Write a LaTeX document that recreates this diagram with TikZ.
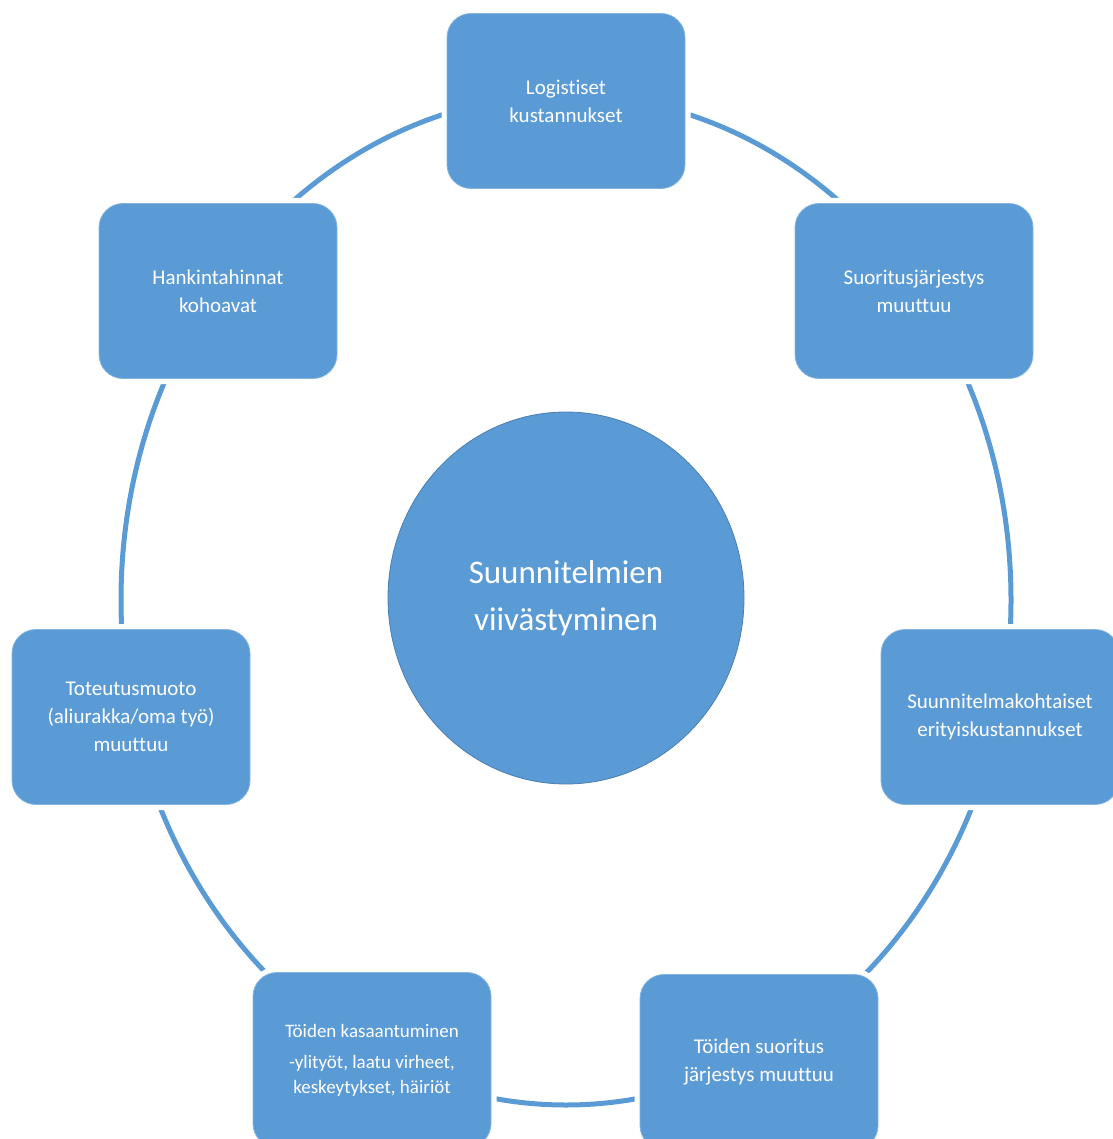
\documentclass[tikz,border=0pt]{standalone}
\usepackage{fontspec}
\setmainfont{Carlito}[Ligatures=NoCommon]
\usetikzlibrary{shapes.geometric}
\definecolor{boxblue}{HTML}{5B9BD5}
\definecolor{rimblue}{HTML}{4A7DB0}
\begin{document}
\begin{tikzpicture}[x=1pt,y=-1pt,
  item/.style={rectangle, rounded corners=24pt, fill=boxblue, draw=boxblue!75!white, line width=0.8pt,
    preaction={draw=white,line width=11pt}, minimum width=238pt, minimum height=175pt,
    text=white, align=center, font=\fontsize{21}{28}\selectfont, inner sep=2pt},
  ring/.style={draw=boxblue, line width=5pt}]
\useasboundingbox (0,0) rectangle (1112,1139);
\fill[white] (0,0) rectangle (1112,1139);
\draw[ring] (566,600) ellipse [x radius=445, y radius=505];
\node[item] (log) at (566,101) {Logistiset\\kustannukset};
\node[item] (suo) at (914,291) {Suoritusjärjestys\\muuttuu};
\node[item] (spe) at (1000,717) {Suunnitelmakohtaiset\\erityiskustannukset};
\node[item] (tsj) at (759,1062) {Töiden suoritus\\järjestys muuttuu};
\node[item, font=\fontsize{19}{25}\selectfont] (kas) at (372,1060) {Töiden kasaantuminen\\[6pt]-ylityöt, laatu virheet,\\keskeytykset, häiriöt};
\node[item] (tot) at (131,717) {Toteutusmuoto\\(aliurakka/oma työ)\\muuttuu};
\node[item] (han) at (218,291) {Hankintahinnat\\kohoavat};
\node[ellipse, fill=boxblue, draw=rimblue, line width=0.8pt, minimum width=356pt, minimum height=372pt,
  text=white, align=center, font=\fontsize{33}{47}\selectfont] (core) at (566,598) {\raisebox{-3pt}{Suunnitelmien}\\\raisebox{-3pt}{viivästyminen}};
\end{tikzpicture}
\end{document}
